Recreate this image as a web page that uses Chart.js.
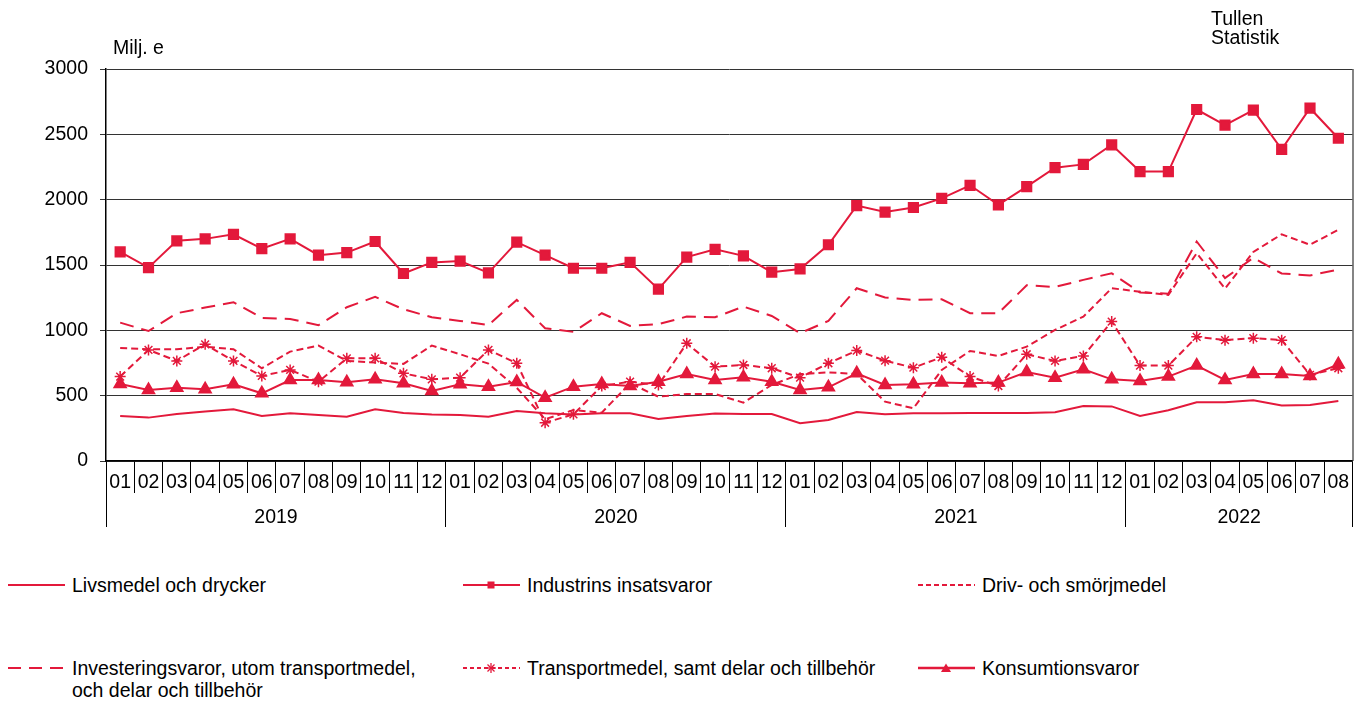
<!DOCTYPE html>
<html><head><meta charset="utf-8">
<script src="https://cdn.jsdelivr.net/npm/chart.js@4.4.1/dist/chart.umd.min.js"></script>
<style>
body{margin:0;background:#fff;font-family:"Liberation Sans",Arial,sans-serif;color:#000}
#wrap{position:relative;width:1355px;height:701px;overflow:hidden}
#c{position:absolute;left:0;top:0}
.t{position:absolute;font-size:19.5px;line-height:22px;white-space:nowrap}
.sw{position:absolute}
</style></head>
<body>
<div id="wrap">
<canvas id="c" width="1361" height="540"></canvas>
<div class="t" style="left:113px;top:36px">Milj. e</div>
<div class="t" style="left:1211px;top:9px;line-height:19px">Tullen<br>Statistik</div>
<div id="legend"></div>
</div>
<script>
const years = ['2019','2020','2021','2022'];
const monthsPerYear = [12,12,12,8];
const monthLabels = ['01','02','03','04','05','06','07','08','09','10','11','12'];
const yTicks = [0,500,1000,1500,2000,2500,3000];

const livsmedel = [345,332,360,378,396,345,365,352,339,396,368,355,
  352,339,383,365,355,365,365,322,345,363,360,360,
  289,314,375,357,365,365,368,368,368,373,421,418,
  345,388,449,449,465,424,429,460];
const industrins = [1600,1480,1685,1700,1735,1625,1700,1575,1595,1680,1435,1520,
  1530,1440,1675,1575,1475,1475,1520,1315,1560,1620,1570,1445,
  1470,1655,1955,1905,1940,2010,2110,1960,2100,2245,2270,2420,
  2215,2215,2690,2570,2685,2385,2700,2470];
const driv = [865,855,855,875,855,710,837,883,766,753,743,883,
  817,745,560,320,390,370,595,492,513,513,447,582,
  665,678,666,454,403,697,842,804,875,1003,1105,1322,
  1296,1271,1590,1320,1600,1735,1655,1770];
const investering = [1059,995,1131,1174,1215,1095,1087,1039,1177,1256,1161,1100,
  1072,1041,1233,1016,988,1131,1034,1047,1105,1100,1182,1110,
  978,1072,1322,1251,1233,1238,1131,1131,1345,1332,1386,1437,
  1290,1280,1680,1400,1555,1435,1420,1465];
const transport = [646,850,766,893,766,651,697,607,786,786,671,625,
  638,850,748,293,357,574,607,582,901,722,735,710,
  638,748,845,768,714,794,646,574,817,766,804,1067,
  730,730,950,925,940,925,659,710];
const konsumtion = [590,544,561,549,587,518,620,620,602,625,595,536,
  587,569,605,485,569,590,574,607,666,620,641,607,
  544,564,671,582,587,600,595,600,681,638,702,625,
  613,646,730,620,666,666,651,740];

const seriesNames = ['Livsmedel och drycker','Industrins insatsvaror','Driv- och smörjmedel',
  'Investeringsvaror, utom transportmedel, och delar och tillbehör',
  'Transportmedel, samt delar och tillbehör','Konsumtionsvaror'];

const C = '#e3193b';
const FONT = {family:'"Liberation Sans", Arial, sans-serif', size:19.5};

// categories
const categories = [];
years.forEach((y,i)=>{ for(let m=0;m<monthsPerYear[i];m++) categories.push(monthLabels[m]); });

// year group ticks (index-based)
const yearCenters = [], yearBounds = [-0.5];
let start = 0;
years.forEach((y,i)=>{ const n=monthsPerYear[i]; yearCenters.push(start + (n-1)/2); start += n; yearBounds.push(start-0.5); });

const frame = {id:'frame', afterDraw(chart){
  const {ctx, chartArea:a} = chart;
  ctx.save(); ctx.strokeStyle='#333'; ctx.lineWidth=1.2;
  ctx.beginPath(); ctx.moveTo(a.right+0.5,a.top); ctx.lineTo(a.right+0.5,a.bottom); ctx.stroke();
  ctx.restore();
}};

const base = {borderColor:C, backgroundColor:C, pointBackgroundColor:C, pointBorderColor:C,
  tension:0, fill:false, borderWidth:2};

new Chart(document.getElementById('c'), {
  type:'line',
  data:{
    labels:categories,
    datasets:[
      Object.assign({}, base, {label:seriesNames[0], data:livsmedel, pointRadius:0}),
      Object.assign({}, base, {label:seriesNames[3], data:investering, pointRadius:0, borderDash:[14,8]}),
      Object.assign({}, base, {label:seriesNames[2], data:driv, pointRadius:0, borderDash:[7,4]}),
      Object.assign({}, base, {label:seriesNames[4], data:transport, pointStyle:'star', pointRadius:5.5, pointBorderWidth:1.5, borderDash:[7,4]}),
      Object.assign({}, base, {label:seriesNames[5], data:konsumtion, pointStyle:'triangle', pointRadius:6.5}),
      Object.assign({}, base, {label:seriesNames[1], data:industrins, pointStyle:'rect', pointRadius:6.5})
    ]
  },
  options:{
    responsive:false, animation:false,
    layout:{padding:{left:0,right:4,top:69,bottom:0}},
    plugins:{legend:{display:false}, tooltip:{enabled:false}},
    elements:{point:{hoverRadius:6}},
    scales:{
      y:{min:0,max:3000,
        afterBuildTicks(ax){ ax.ticks = yTicks.map(v=>({value:v})); },
        afterFit(ax){ ax.width = 106; },
        ticks:{color:'#000',font:FONT,padding:12,callback:(v)=>String(v)},
        grid:{color:'#333',lineWidth:1,tickLength:6},
        border:{color:'#000',width:1.5}
      },
      x:{type:'category',position:'bottom',weight:0,offset:true,
        afterFit(ax){ ax.height = 32; },
        grid:{offset:true,drawOnChartArea:false,tickLength:32,color:'#000',lineWidth:1},
        border:{color:'#000',width:1.5},
        ticks:{color:'#000',font:FONT,padding:-22,maxRotation:0,autoSkip:false}
      },
      x2:{type:'linear',position:'bottom',weight:1,min:-0.5,max:43.5,
        afterBuildTicks(ax){
          const t=[]; yearBounds.forEach(v=>t.push({value:v})); yearCenters.forEach(v=>t.push({value:v}));
          t.sort((a,b)=>a.value-b.value); ax.ticks=t;
        },
        afterFit(ax){ ax.height = 47; },
        grid:{drawOnChartArea:false,tickLength:34,lineWidth:1,
          color:(ctx)=> (ctx.tick && yearBounds.includes(ctx.tick.value)) ? '#000' : 'rgba(0,0,0,0)'},
        border:{display:false},
        ticks:{color:'#000',font:FONT,padding:-21,maxRotation:0,autoSkip:false,
          callback:(v)=>{ const i=yearCenters.indexOf(v); return i>=0 ? years[i] : ''; }}
      }
    }
  },
  plugins:[frame]
});

// HTML legend
const legendItems = [
  {x:8,  y:585, name:seriesNames[0], dash:'', mark:''},
  {x:463,y:585, name:seriesNames[1], dash:'', mark:'rect'},
  {x:918,y:585, name:seriesNames[2], dash:'5,3', mark:''},
  {x:8,  y:668, name:'Investeringsvaror, utom transportmedel,<br>och delar och tillbehör', dash:'13,8', mark:''},
  {x:463,y:668, name:seriesNames[4], dash:'4,3', mark:'star'},
  {x:918,y:668, name:seriesNames[5], dash:'', mark:'tri'}
];
const lg = document.getElementById('legend');
legendItems.forEach(it=>{
  let m='';
  if(it.mark==='rect') m='<rect x="24.5" y="2.5" width="7" height="7" fill="'+C+'"/>';
  if(it.mark==='tri') m='<polygon points="28,1.5 33,10 23,10" fill="'+C+'"/>';
  if(it.mark==='star') m='<g stroke="'+C+'" stroke-width="1.3"><line x1="28" y1="1" x2="28" y2="11"/><line x1="23" y1="6" x2="33" y2="6"/><line x1="24.5" y1="2.5" x2="31.5" y2="9.5"/><line x1="31.5" y1="2.5" x2="24.5" y2="9.5"/></g>';
  const sw = '<svg class="sw" width="57" height="12" style="left:'+it.x+'px;top:'+(it.y-6)+'px"><line x1="0" y1="6" x2="57" y2="6" stroke="'+C+'" stroke-width="'+(it.mark==='tri'?2.5:2)+'"'+(it.dash?' stroke-dasharray="'+it.dash+'"':'')+'/>'+m+'</svg>';
  const tx = '<div class="t" style="left:'+(it.x+64)+'px;top:'+(it.y-11)+'px">'+it.name+'</div>';
  lg.insertAdjacentHTML('beforeend', sw+tx);
});
</script>
</body></html>
